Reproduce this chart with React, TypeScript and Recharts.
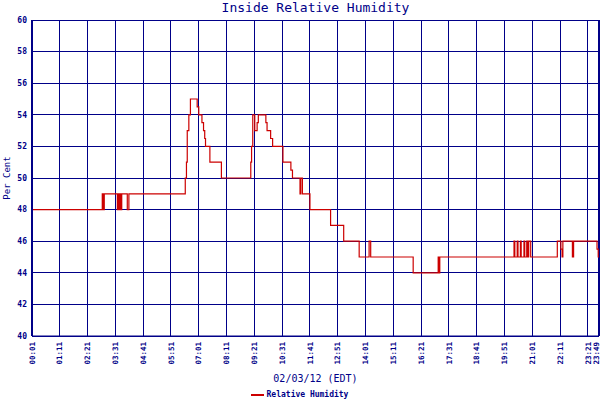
import { LineChart, Line, XAxis, YAxis, CartesianGrid, Legend, ReferenceLine } from "recharts";

const NAVY = "#000088";
const RED = "#cc0000";
const MONO = "'DejaVu Sans Mono', monospace";

// readings, stepped (time of change -> value)
const times = [
  "00:01", "02:58", "03:01", "03:03", "03:36", "03:39", "03:41", "03:43", "03:45", "03:47",
  "04:01", "04:05", "06:27", "06:30", "06:32", "06:36", "06:40", "06:57", "07:01", "07:09",
  "07:13", "07:16", "07:18", "07:29", "07:58", "09:12", "09:14", "09:17", "09:22", "09:28",
  "09:31", "09:50", "09:53", "10:02", "10:07", "10:33", "10:53", "10:57", "11:16", "11:18",
  "11:22", "11:41", "12:33", "13:06", "13:45", "14:10", "14:14", "16:01", "17:04", "17:06",
  "17:08", "20:15", "20:17", "20:23", "20:25", "20:31", "20:33", "20:40", "20:42", "20:47",
  "20:49", "20:52", "20:57", "22:04", "22:13", "22:16", "22:18", "22:42", "22:45", "23:44",
  "23:47", "23:49",
];
const humidity = [
  48, 49, 48, 49, 48, 49, 48, 49, 48, 49,
  48, 49, 50, 51, 53, 54, 55, 54.5, 54, 53.5,
  53, 52.5, 52, 51, 50, 51, 52, 54, 53, 53.5,
  54, 53.5, 53, 52.5, 52, 51, 50.5, 50, 49, 50,
  49, 48, 47, 46, 45, 46, 45, 44, 45, 44,
  45, 46, 45, 46, 45, 46, 45, 46, 45, 46,
  45, 46, 45, 46, 45.5, 45, 46, 45, 46, 45.5,
  45, 45,
];
const xTickLabels = [
  "00:01", "01:11", "02:21", "03:31", "04:41", "05:51", "07:01", "08:11", "09:21", "10:31", "11:41",
  "12:51", "14:01", "15:11", "16:21", "17:31", "18:41", "19:51", "21:01", "22:11", "23:21", "23:49",
];
const yTicks = [40, 42, 44, 46, 48, 50, 52, 54, 56, 58, 60];

const toMin = (s: string) => {
  const [h, m] = s.split(":").map(Number);
  return h * 60 + m;
};
const fmt = (v: number) =>
  `${String(Math.floor(v / 60)).padStart(2, "0")}:${String(v % 60).padStart(2, "0")}`;

const rows = times.map((t, i) => ({ t: toMin(t), rh: humidity[i] }));
const xTicks = xTickLabels.map(toMin);

const TimeTick = ({ x, y, payload }: any) => {
  // keep the last label inside the picture
  const tx = Math.min(x, 596);
  return (
    <text
      x={tx}
      y={y}
      dy="0.35em"
      transform={`rotate(-90 ${tx} ${y})`}
      textAnchor="end"
      fill={NAVY}
      fontSize={7.5}
      fontWeight="bold"
      fontFamily={MONO}
    >
      {fmt(payload.value)}
    </text>
  );
};

const LegendBox = () => (
  <div
    style={{
      height: 14,
      boxSizing: "border-box",
      paddingTop: 4,
      display: "flex",
      justifyContent: "center",
      alignItems: "center",
      fontFamily: MONO,
      fontSize: 8,
      fontWeight: "bold",
      color: NAVY,
      lineHeight: "10px",
    }}
  >
    <span style={{ display: "inline-block", width: 13, height: 2, background: RED, marginRight: 3 }} />
    Relative Humidity
  </div>
);

export default function App() {
  return (
    <div style={{ position: "absolute", left: 0, top: 0, width: 600, height: 400, background: "#fff" }}>
      <div
        style={{
          position: "absolute",
          top: 0,
          left: 32,
          width: 567,
          textAlign: "center",
          fontFamily: MONO,
          fontSize: 13,
          lineHeight: "16px",
          color: NAVY,
        }}
      >
        Inside Relative Humidity
      </div>
      <LineChart width={600} height={400} data={rows} margin={{ top: 20, right: 1, bottom: 0, left: 0 }}>
        <CartesianGrid stroke={NAVY} strokeWidth={1} shapeRendering="crispEdges" />
        <XAxis
          dataKey="t"
          type="number"
          domain={[1, 1429]}
          ticks={xTicks}
          interval={0}
          height={50}
          tickLine={false}
          tickSize={4}
          tickMargin={2}
          tick={<TimeTick />}
          axisLine={{ stroke: NAVY }}
          label={{
            value: "02/03/12 (EDT)",
            position: "insideBottom",
            offset: 4,
            fill: NAVY,
            fontSize: 10,
            fontFamily: MONO,
          }}
        />
        <YAxis
          type="number"
          domain={[40, 60]}
          ticks={yTicks}
          width={32}
          tickLine={false}
          tickSize={4}
          tickMargin={1}
          axisLine={{ stroke: NAVY, strokeWidth: 2 }}
          tick={{ fill: NAVY, fontSize: 8, fontWeight: "bold", fontFamily: MONO }}
          label={{
            value: "Per Cent",
            angle: -90,
            position: "insideLeft",
            offset: 7,
            fill: NAVY,
            fontSize: 9,
            fontFamily: MONO,
            style: { textAnchor: "middle" },
          }}
        />
        <ReferenceLine x={1429} stroke={NAVY} strokeWidth={2} />
        <Line
          type="stepAfter"
          dataKey="rh"
          name="Relative Humidity"
          stroke={RED}
          strokeWidth={1.2}
          dot={false}
          isAnimationActive={false}
        />
        <Legend verticalAlign="bottom" content={<LegendBox />} />
      </LineChart>
    </div>
  );
}
